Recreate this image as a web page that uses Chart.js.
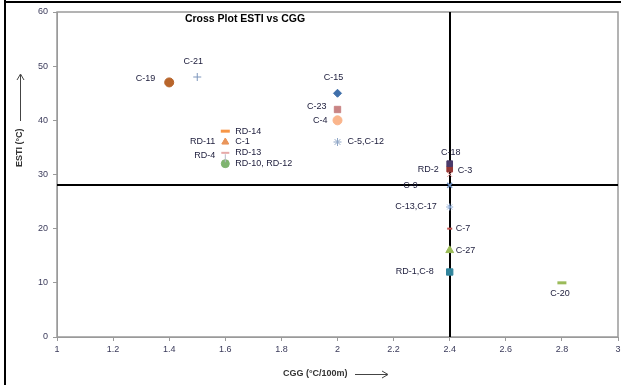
<!DOCTYPE html>
<html>
<head>
<meta charset="utf-8">
<script src="https://cdn.jsdelivr.net/npm/chart.js@4"></script>
<style>
  html, body { margin: 0; padding: 0; background: #fff; }
  #wrap { width: 621px; height: 385px; position: relative; }
</style>
</head>
<body>
<div id="wrap"><canvas id="chart" width="621" height="385"></canvas></div>
<script>
// Point names, CGG (x) and ESTI (y)
const names = ['C-19', 'C-21', 'RD-14', 'RD-11', 'C-1', 'RD-13', 'RD-4', 'RD-10, RD-12',
    'C-15', 'C-23', 'C-4', 'C-5,C-12', 'C-18', 'C-3', 'RD-2', 'C-9', 'C-13,C-17',
    'C-7', 'C-27', 'RD-1,C-8', 'C-20'];
const cggValues = [1.4, 1.5, 1.6, 1.6, 1.6, 1.6, 1.6, 1.6,
    2.0, 2.0, 2.0, 2.0, 2.4, 2.4, 2.4, 2.4, 2.4,
    2.4, 2.4, 2.4, 2.8];
const estiValues = [47, 48, 38, 36, 36, 34, 33, 32,
    45, 42, 40, 36, 32, 31, 30, 28, 24,
    20, 16, 12, 10];

// Reference lines
const cggCutoff = 2.4;
const estiCutoff = 28;

// Axis ticks
const xTicks = [1, 1.2, 1.4, 1.6, 1.8, 2, 2.2, 2.4, 2.6, 2.8, 3];
const yTicks = [0, 10, 20, 30, 40, 50, 60];

// marker style per point
const markers = [
    { style: 'circle', color: '#B8652B', r: 4.5, w: 1 },
    { style: 'cross', color: '#7E96BC', r: 4, w: 1 },
    { style: 'line', color: '#F79646', r: 4.5, w: 3 },
    { style: 'triangle', color: '#E9955B', r: 4, w: 1 },
    { style: 'triangle', color: '#F2A878', r: 3.5, w: 1 },
    { style: 'line', color: '#E6A9A8', r: 4, w: 2 },
    { style: 'line', color: '#B8B8C8', r: 4, w: 1, rot: 90 },
    { style: 'circle', color: '#7FB46F', r: 4, w: 1 },
    { style: 'rectRot', color: '#3F6FAA', r: 4, w: 1 },
    { style: 'rect', color: '#C98484', r: 4.5, w: 1 },
    { style: 'circle', color: '#FAB58C', r: 4.5, w: 1 },
    { style: 'star', color: '#8FA6C6', r: 4, w: 1 },
    { style: 'rect', color: '#4A3A6A', r: 4, w: 1 },
    { style: 'rect', color: '#953735', r: 4, w: 1 },
    { style: 'crossRot', color: '#E8A0A0', r: 3.5, w: 1 },
    { style: 'crossRot', color: '#6E90C0', r: 3.5, w: 1.5 },
    { style: 'star', color: '#8EACD6', r: 3.5, w: 1 },
    { style: 'line', color: '#C0504D', r: 2.5, w: 2 },
    { style: 'triangle', color: '#9BBB59', r: 4.5, w: 1 },
    { style: 'rect', color: '#31859C', r: 4.5, w: 1 },
    { style: 'line', color: '#9BBB59', r: 4.5, w: 3 }
];

// label placement: dx, dy from point, text alignment
const labelPlace = [
    [-14, -4, 'right'], [-4, -15, 'center'], [10, 0, 'left'], [-10, 0, 'right'],
    [10, 0, 'left'], [10, 0, 'left'], [-10, -3, 'right'], [10, 0, 'left'],
    [-4, -16, 'center'], [-11, -3, 'right'], [-10, 0, 'right'], [10, 0, 'left'],
    [1, -11, 'center'], [8, 1, 'left'], [-11, -5, 'right'], [-32, 0, 'right'],
    [-13, 0, 'right'], [6, 0, 'left'], [6, 0, 'left'], [-16, 0, 'right'],
    [-2, 11, 'center']
];

const datasets = names.map((n, i) => ({
    label: n,
    data: [{ x: cggValues[i], y: estiValues[i] }],
    pointStyle: markers[i].style,
    pointRadius: markers[i].r,
    pointRotation: markers[i].rot || 0,
    backgroundColor: markers[i].color,
    borderColor: markers[i].color,
    borderWidth: markers[i].w
}));

const txtFont = '9px "Liberation Sans", Arial, sans-serif';

const extras = {
    id: 'extras',
    beforeDraw(chart) {
        const c = chart.ctx;
        c.save();
        c.fillStyle = '#fff';
        c.fillRect(0, 0, chart.width, chart.height);
        // outer frame (left, top)
        c.fillStyle = '#000';
        c.fillRect(4, 0, 2, chart.height);
        c.fillRect(4, 1, chart.width, 2);
        c.restore();
    },
    beforeDatasetsDraw(chart) {
        const c = chart.ctx, a = chart.chartArea;
        const xs = chart.scales.x, ys = chart.scales.y;
        c.save();
        // plot area border
        c.strokeStyle = '#9A9A9A';
        c.lineWidth = 1.5;
        c.strokeRect(a.left, a.top, a.right - a.left, a.bottom - a.top);
        // cutoff lines
        c.strokeStyle = '#000';
        c.lineWidth = 2;
        const px = Math.round(xs.getPixelForValue(cggCutoff));
        const py = Math.round(ys.getPixelForValue(estiCutoff));
        c.beginPath();
        c.moveTo(px, a.top); c.lineTo(px, a.bottom);
        c.moveTo(a.left, py); c.lineTo(a.right, py);
        c.stroke();
        c.restore();
    },
    afterDatasetsDraw(chart) {
        const c = chart.ctx;
        const xs = chart.scales.x, ys = chart.scales.y;
        c.save();
        c.font = txtFont;
        c.fillStyle = '#1B1B3A';
        c.textBaseline = 'middle';
        names.forEach((n, i) => {
            const p = labelPlace[i];
            c.textAlign = p[2];
            c.fillText(n, xs.getPixelForValue(cggValues[i]) + p[0], ys.getPixelForValue(estiValues[i]) + p[1]);
        });
        // title
        c.font = 'bold 10.5px "Liberation Sans", Arial, sans-serif';
        c.fillStyle = '#000';
        c.textAlign = 'center';
        c.fillText('Cross Plot ESTI vs CGG', 245, 19);
        // x axis title with arrow
        c.font = 'bold 9px "Liberation Sans", Arial, sans-serif';
        c.fillStyle = '#333';
        c.textAlign = 'left';
        c.fillText('CGG (°C/100m)', 283, 374);
        c.strokeStyle = '#444';
        c.lineWidth = 1;
        c.beginPath();
        c.moveTo(355, 374.5); c.lineTo(387, 374.5);
        c.moveTo(382, 371); c.lineTo(388, 374.5); c.lineTo(382, 378);
        c.stroke();
        // y axis title with arrow
        c.save();
        c.translate(20, 167);
        c.rotate(-Math.PI / 2);
        c.fillText('ESTI (°C)', 0, 0);
        c.beginPath();
        c.moveTo(46, 0.5); c.lineTo(92, 0.5);
        c.moveTo(87, -3); c.lineTo(93, 0.5); c.lineTo(87, 4);
        c.stroke();
        c.restore();
        c.restore();
    }
};

new Chart(document.getElementById('chart'), {
    type: 'scatter',
    data: { datasets: datasets },
    options: {
        responsive: false,
        animation: false,
        layout: { autoPadding: false, padding: { left: 0, right: 3, top: 12, bottom: 0 } },
        plugins: {
            legend: { display: false },
            tooltip: { enabled: false }
        },
        scales: {
            x: {
                type: 'linear',
                min: 1, max: 3,
                afterBuildTicks: s => { s.ticks = xTicks.map(v => ({ value: v })); },
                afterFit: s => { s.height = 48; s.paddingRight = 0; s.paddingLeft = 0; },
                grid: { drawOnChartArea: false, color: '#9A9A9A', tickLength: 4 },
                border: { color: '#9A9A9A' },
                ticks: {
                    color: '#3A3A5A', font: { size: 9, family: '"Liberation Sans", Arial' }, padding: 3,
                    callback: v => String(Math.round(v * 10) / 10)
                }
            },
            y: {
                type: 'linear',
                min: 0, max: 60,
                afterBuildTicks: s => { s.ticks = yTicks.map(v => ({ value: v })); },
                afterFit: s => { s.width = 57; s.paddingTop = 0; s.paddingBottom = 0; },
                grid: { drawOnChartArea: false, color: '#9A9A9A', tickLength: 4 },
                border: { color: '#9A9A9A' },
                ticks: { color: '#3A3A5A', font: { size: 9, family: '"Liberation Sans", Arial' }, padding: 5 }
            }
        }
    },
    plugins: [extras]
});
</script>
</body>
</html>
